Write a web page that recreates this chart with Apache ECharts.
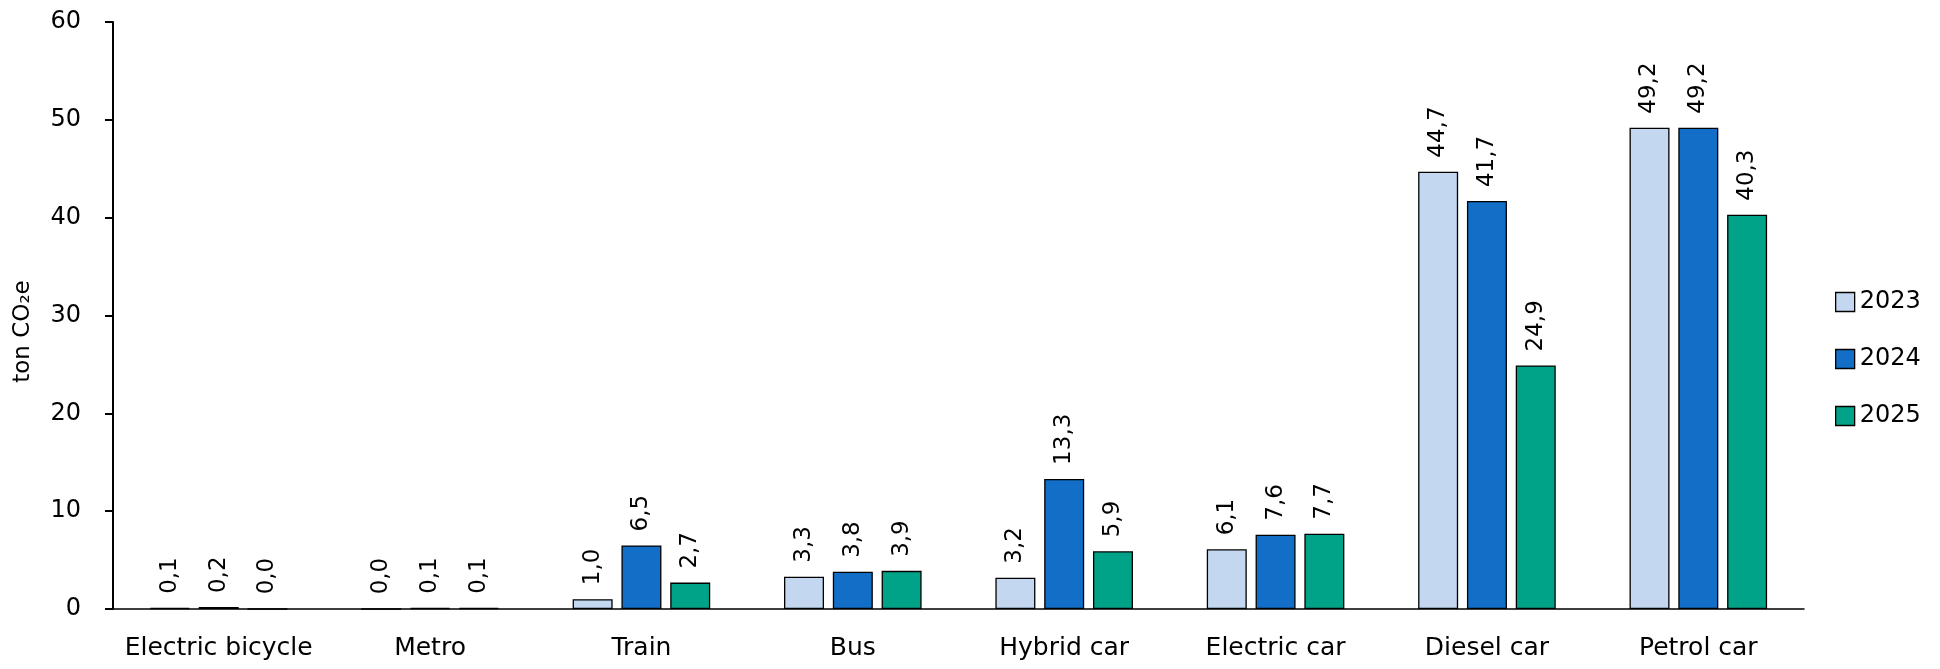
<!DOCTYPE html>
<html>
<head>
<meta charset="utf-8">
<script src="https://cdn.jsdelivr.net/npm/echarts@6/dist/echarts.min.js"></script>
<style>
  html, body { margin: 0; padding: 0; background: #fff; }
  #chart { width: 1940px; height: 669px; }
</style>
</head>
<body>
<div id="chart"></div>
<script>
// Emissions per transport mode, ton CO2e
const categories = ['Electric bicycle', 'Metro', 'Train', 'Bus', 'Hybrid car', 'Electric car', 'Diesel car', 'Petrol car'];
const years = ['2023', '2024', '2025'];
const values2023 = [0.1, 0.0, 1.0, 3.3, 3.2, 6.1, 44.7, 49.2];
const values2024 = [0.2, 0.1, 6.5, 3.8, 13.3, 7.6, 41.7, 49.2];
const values2025 = [0.0, 0.1, 2.7, 3.9, 5.9, 7.7, 24.9, 40.3];
const yTicks = [0, 10, 20, 30, 40, 50, 60];

const colors = ['#c3d8f0', '#126ec6', '#00a387'];
const seriesValues = [values2023, values2024, values2025];
const textFont = '"DejaVu Sans", Inter, sans-serif';

const chart = echarts.init(document.getElementById('chart'), null, { renderer: 'canvas' });

const series = years.map((y, i) => ({
  name: y,
  type: 'bar',
  data: seriesValues[i],
  barWidth: 40,
  barGap: '22%',
  itemStyle: { color: colors[i], borderColor: '#000', borderWidth: 1.3 },
  label: {
    show: true,
    position: 'top',
    rotate: 90,
    align: 'left',
    verticalAlign: 'middle',
    distance: 14,
    fontFamily: textFont,
    fontSize: 23,
    color: '#000',
    formatter: p => p.value.toFixed(1).replace('.', ',')
  }
}));

chart.setOption({
  animation: false,
  grid: { left: 113, right: 136, top: 22, bottom: 60, containLabel: false },
  legend: {
    orient: 'vertical',
    left: 1830,
    top: 285,
    itemWidth: 19,
    itemHeight: 19,
    itemGap: 33,
    icon: 'rect',
    data: years,
    itemStyle: { borderColor: '#000', borderWidth: 1.3 },
    textStyle: { fontFamily: textFont, fontSize: 24, lineHeight: 24, color: '#000' }
  },
  xAxis: {
    type: 'category',
    data: categories,
    axisLine: { lineStyle: { color: '#000', width: 1.5 } },
    axisTick: { show: false },
    axisLabel: { interval: 0, margin: 27, fontFamily: textFont, fontSize: 25, color: '#000' }
  },
  yAxis: {
    type: 'value',
    min: yTicks[0],
    max: yTicks[yTicks.length - 1],
    interval: 10,
    name: 'ton CO\u2082e',
    nameLocation: 'middle',
    nameGap: 78,
    nameTextStyle: { fontFamily: textFont, fontSize: 23, color: '#000', padding: [0, 32, 0, 0] },
    axisLine: { show: true, lineStyle: { color: '#000', width: 2 } },
    axisTick: { show: true, length: 8, lineStyle: { color: '#000', width: 2 } },
    splitLine: { show: false },
    axisLabel: { margin: 32, fontFamily: textFont, fontSize: 24, color: '#000' }
  },
  series: series
});
</script>
</body>
</html>
